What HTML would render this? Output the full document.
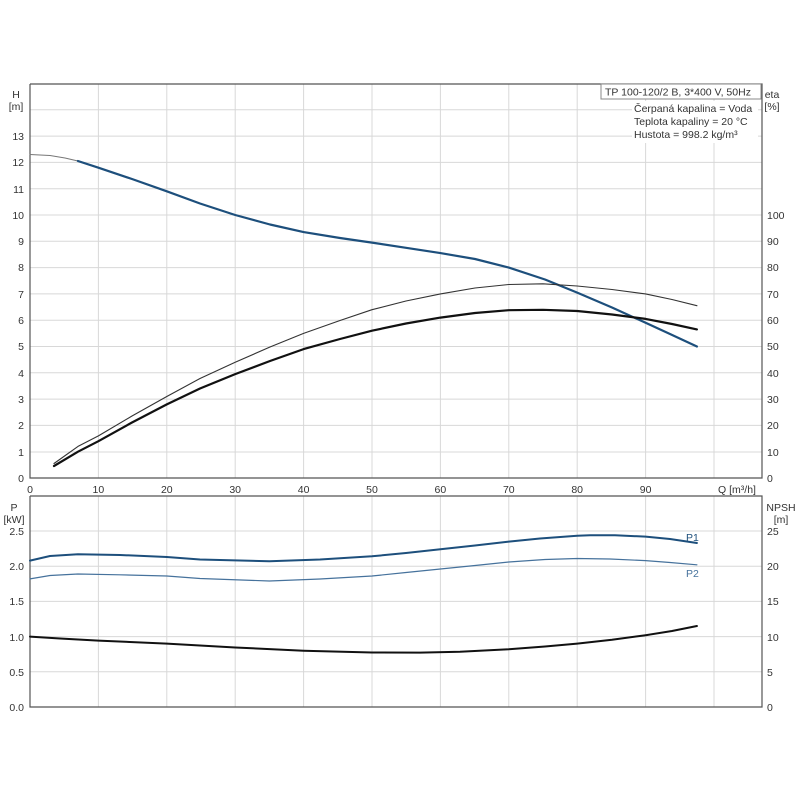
<!DOCTYPE html><html><head><style>body{margin:0;background:#fff}svg{display:block}text{font-family:"Liberation Sans",sans-serif;font-size:10.5px;fill:#333}</style></head><body>
<svg width="800" height="800" viewBox="0 0 800 800">
<g stroke="#d8d8d8" stroke-width="1">
<line x1="30" y1="452" x2="762" y2="452"/><line x1="30" y1="425.4" x2="762" y2="425.4"/><line x1="30" y1="399.1" x2="762" y2="399.1"/><line x1="30" y1="372.8" x2="762" y2="372.8"/><line x1="30" y1="346.5" x2="762" y2="346.5"/><line x1="30" y1="320.2" x2="762" y2="320.2"/><line x1="30" y1="293.9" x2="762" y2="293.9"/><line x1="30" y1="267.6" x2="762" y2="267.6"/><line x1="30" y1="241.3" x2="762" y2="241.3"/><line x1="30" y1="215" x2="762" y2="215"/><line x1="30" y1="188.7" x2="762" y2="188.7"/><line x1="30" y1="162.4" x2="762" y2="162.4"/><line x1="30" y1="136.1" x2="762" y2="136.1"/><line x1="30" y1="109.8" x2="762" y2="109.8"/>
<line x1="98.4" y1="84" x2="98.4" y2="478"/><line x1="166.8" y1="84" x2="166.8" y2="478"/><line x1="235.2" y1="84" x2="235.2" y2="478"/><line x1="303.6" y1="84" x2="303.6" y2="478"/><line x1="372" y1="84" x2="372" y2="478"/><line x1="440.4" y1="84" x2="440.4" y2="478"/><line x1="508.8" y1="84" x2="508.8" y2="478"/><line x1="577.2" y1="84" x2="577.2" y2="478"/><line x1="645.6" y1="84" x2="645.6" y2="478"/><line x1="714" y1="84" x2="714" y2="478"/>
<line x1="30" y1="671.8" x2="762" y2="671.8"/><line x1="30" y1="636.6" x2="762" y2="636.6"/><line x1="30" y1="601.4" x2="762" y2="601.4"/><line x1="30" y1="566.2" x2="762" y2="566.2"/><line x1="30" y1="531" x2="762" y2="531"/>
<line x1="98.4" y1="496" x2="98.4" y2="707"/><line x1="166.8" y1="496" x2="166.8" y2="707"/><line x1="235.2" y1="496" x2="235.2" y2="707"/><line x1="303.6" y1="496" x2="303.6" y2="707"/><line x1="372" y1="496" x2="372" y2="707"/><line x1="440.4" y1="496" x2="440.4" y2="707"/><line x1="508.8" y1="496" x2="508.8" y2="707"/><line x1="577.2" y1="496" x2="577.2" y2="707"/><line x1="645.6" y1="496" x2="645.6" y2="707"/><line x1="714" y1="496" x2="714" y2="707"/>
</g>
<g fill="none" stroke="#555" stroke-width="1.2">
<polyline points="30,84 762,84 762,478 30,478 30,84"/>
<polyline points="30,496 762,496 762,707 30,707 30,496"/>
</g>
<rect x="601" y="84" width="160" height="15" fill="#fff" stroke="#888"/>
<text x="605" y="95.5">TP 100-120/2 B, 3*400 V, 50Hz</text>
<rect x="632" y="101" width="126" height="42" fill="#fff"/>
<text x="634" y="112">Čerpaná kapalina = Voda</text>
<text x="634" y="125">Teplota kapaliny = 20 °C</text>
<text x="634" y="138">Hustota = 998.2 kg/m³</text>
<g text-anchor="middle"><text x="16" y="98">H</text><text x="16" y="110">[m]</text><text x="772" y="98">eta</text><text x="772" y="110">[%]</text>
<text x="14" y="511">P</text><text x="14" y="523">[kW]</text><text x="781" y="511">NPSH</text><text x="781" y="523">[m]</text>
<text x="30" y="493">0</text><text x="98.4" y="493">10</text><text x="166.8" y="493">20</text><text x="235.2" y="493">30</text><text x="303.6" y="493">40</text><text x="372" y="493">50</text><text x="440.4" y="493">60</text><text x="508.8" y="493">70</text><text x="577.2" y="493">80</text><text x="645.6" y="493">90</text><text x="737" y="493">Q [m³/h]</text></g>
<g text-anchor="end"><text x="24" y="482">0</text><text x="24" y="456">1</text><text x="24" y="429">2</text><text x="24" y="403">3</text><text x="24" y="377">4</text><text x="24" y="350">5</text><text x="24" y="324">6</text><text x="24" y="298">7</text><text x="24" y="271">8</text><text x="24" y="245">9</text><text x="24" y="219">10</text><text x="24" y="193">11</text><text x="24" y="166">12</text><text x="24" y="140">13</text>
<text x="24" y="711">0.0</text><text x="24" y="676">0.5</text><text x="24" y="641">1.0</text><text x="24" y="605">1.5</text><text x="24" y="570">2.0</text><text x="24" y="535">2.5</text></g>
<g><text x="767" y="482">0</text><text x="767" y="456">10</text><text x="767" y="429">20</text><text x="767" y="403">30</text><text x="767" y="377">40</text><text x="767" y="350">50</text><text x="767" y="324">60</text><text x="767" y="298">70</text><text x="767" y="271">80</text><text x="767" y="245">90</text><text x="767" y="219">100</text>
<text x="767" y="711">0</text><text x="767" y="676">5</text><text x="767" y="641">10</text><text x="767" y="605">15</text><text x="767" y="570">20</text><text x="767" y="535">25</text></g>
<g fill="none" stroke-linejoin="round" stroke-linecap="round">
<polyline stroke="#777" stroke-width="1" points="30,154.5 50,155.5 65,158 77.9,161"/>
<polyline stroke="#1d4f7c" stroke-width="2.2" points="77.9,161 98.4,167.7 132,179 166.8,191.3 200,203.5 235.2,215 270,224.5 303.6,232.1 340,238 372,242.6 406,247.8 440.4,253.1 475,259 508.8,267.6 545,279.5 577.2,292.6 612,307.5 645.6,322.8 670,334 696.9,346.5"/>
<polyline stroke="#333" stroke-width="1.1" points="54,463.5 78,446.4 98.4,435.9 132,416 166.8,396.5 200,378.5 235.2,362.3 270,347 303.6,333.4 340,320.5 372,309.7 406,301 440.4,293.9 475,288 508.8,284.5 543,283.8 577.2,286 612,289.5 645.6,293.9 672,299.5 696.9,305.7"/>
<polyline stroke="#111" stroke-width="2.2" points="54,466 78,451.7 98.4,441.2 132,422.5 166.8,404.4 200,388.5 235.2,374.1 270,361 303.6,349.1 340,339 372,330.7 406,323.5 440.4,317.6 475,313 508.8,310.2 543,309.8 577.2,311 612,314.5 645.6,318.9 672,324 696.9,329.4"/>
<polyline stroke="#1d4f7c" stroke-width="2" points="30,560.6 50,556 77.9,554.2 120,555 166.8,557 200,559.5 269.4,561.3 320,559.5 372,556.3 406,553 440.4,549.3 475,545.5 508.8,541.6 540,538.5 577.2,535.8 590,535.2 615,535.3 645.6,536.6 670,539 696.9,543"/>
<polyline stroke="#46729c" stroke-width="1.2" points="30,578.9 50,575.5 77.9,574 120,574.8 166.8,576 200,578.5 269.4,581 320,579 372,576 406,572.5 440.4,569 475,565.5 508.8,562 545,559.5 577.2,558.5 610,559 645.6,560.6 670,562.5 696.9,564.8"/>
<polyline stroke="#111" stroke-width="2" points="30,636.6 60,638.5 98.4,640.6 166.8,643.6 235.2,647.5 303.6,650.7 372,652.5 420,652.6 460,651.8 508.8,649.3 545,646.5 577.2,643.6 612,639.8 645.6,635.2 672,631 696.9,626"/>
</g>
<text x="686" y="541" style="fill:#1d4f7c">P1</text>
<text x="686" y="577" style="fill:#46729c">P2</text>
</svg></body></html>
